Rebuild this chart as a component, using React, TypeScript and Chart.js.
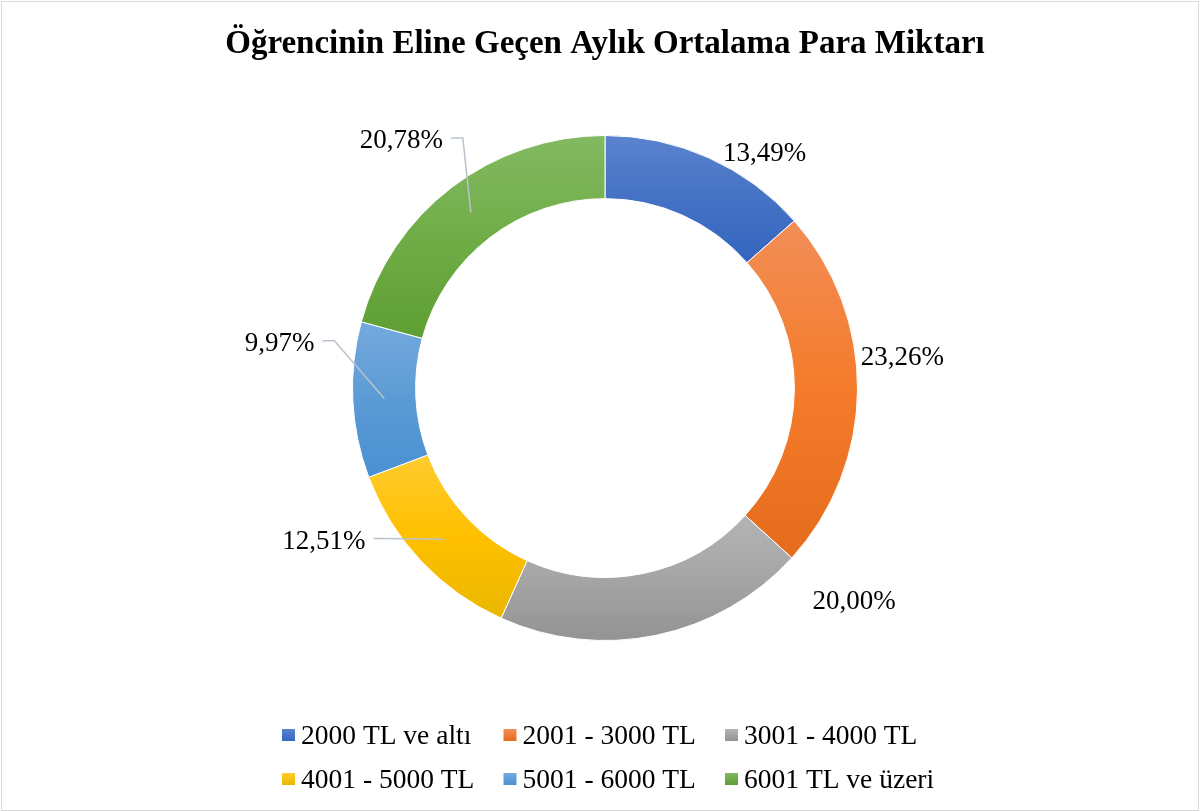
import React, { useEffect, useRef } from 'react';
import { Chart, registerables } from 'chart.js';

Chart.register(...registerables);

const TITLE = 'Öğrencinin Eline Geçen Aylık Ortalama Para Miktarı';
const categories = [
  '2000 TL ve altı',
  '2001 - 3000 TL',
  '3001 - 4000 TL',
  '4001 - 5000 TL',
  '5001 - 6000 TL',
  '6001 TL ve üzeri',
];
const percentages = [13.49, 23.26, 20.0, 12.51, 9.97, 20.78];

// gradient colours per slice (top -> base -> bottom)
const topColors = ['#5b83ce', '#f28e58', '#b4b4b4', '#ffcb30', '#75a9dd', '#83b962'];
const baseColors = ['#4472c4', '#f47b2a', '#a5a5a5', '#ffc000', '#5b9bd5', '#70ad47'];
const bottomColors = ['#3565c0', '#e46c1c', '#939393', '#e9b700', '#4a90d3', '#5e9e32'];

// label placement: direction (deg, 0 = right, clockwise) and distance as multiple of outer radius
const labelAngles = [-55.9, -6.2, 40.4, 151.7, 188.1, 230.7];
const labelDistances = [1.128, 1.185, 1.296, 1.265, 1.302, 1.274];
const labelLeaders = [false, false, false, true, true, true];

const LABEL_FONT_SIZE = 27;
const LEGEND_FONT_SIZE = 27.5;
const TITLE_FONT_SIZE = 33;
const SERIF = '"Liberation Serif", "Times New Roman", serif';

function formatPct(v: number): string {
  return v.toFixed(2).replace('.', ',') + '%';
}

function sliceGradient(context: any) {
  const chart = context.chart;
  const i = context.dataIndex;
  const area = chart.chartArea;
  if (!area || i === undefined) return baseColors[i ?? 0];
  const cx = (area.left + area.right) / 2;
  const cy = (area.top + area.bottom) / 2;
  const R = Math.min(area.width, area.height) / 2;
  const r = R * 0.75;
  const total = percentages.reduce((a, b) => a + b, 0);
  let cum = 0;
  for (let k = 0; k < i; k++) cum += percentages[k];
  const a0 = -Math.PI / 2 + (cum / total) * Math.PI * 2;
  const a1 = a0 + (percentages[i] / total) * Math.PI * 2;
  const ys = [
    cy + Math.sin(a0) * R,
    cy + Math.sin(a1) * R,
    cy + Math.sin(a0) * r,
    cy + Math.sin(a1) * r,
  ];
  let yMin = Math.min(...ys);
  let yMax = Math.max(...ys);
  const contains = (ang: number) => {
    for (let t = ang - 4 * Math.PI; t <= ang + 4 * Math.PI; t += 2 * Math.PI) {
      if (t >= a0 && t <= a1) return true;
    }
    return false;
  };
  if (contains(-Math.PI / 2)) yMin = cy - R;
  if (contains(Math.PI / 2)) yMax = cy + R;
  const g = chart.ctx.createLinearGradient(0, yMin, 0, yMax);
  g.addColorStop(0, topColors[i]);
  g.addColorStop(0.5, baseColors[i]);
  g.addColorStop(1, bottomColors[i]);
  return g;
}

const labelsPlugin = {
  id: 'sliceLabels',
  afterDatasetsDraw(chart: any) {
    const ctx = chart.ctx;
    const meta = chart.getDatasetMeta(0);
    ctx.save();
    ctx.font = `${LABEL_FONT_SIZE}px ${SERIF}`;
    ctx.fillStyle = '#000000';
    ctx.textAlign = 'center';
    ctx.textBaseline = 'alphabetic';
    meta.data.forEach((arc: any, i: number) => {
      const p = arc.getProps(['x', 'y', 'startAngle', 'endAngle', 'outerRadius', 'innerRadius'], true);
      const a = (labelAngles[i] * Math.PI) / 180;
      const tx = p.x + Math.cos(a) * p.outerRadius * labelDistances[i];
      const ty = p.y + Math.sin(a) * p.outerRadius * labelDistances[i];
      const text = formatPct(percentages[i]);
      ctx.fillText(text, tx, ty + LABEL_FONT_SIZE * 0.34);
      if (labelLeaders[i]) {
        const w = ctx.measureText(text).width;
        const sx = tx + w / 2 + 8;
        const sy = ty - 1;
        const mid = (p.startAngle + p.endAngle) / 2;
        const mr = (p.outerRadius + p.innerRadius) / 2;
        const ex = p.x + Math.cos(mid) * mr;
        const ey = p.y + Math.sin(mid) * mr;
        ctx.beginPath();
        ctx.strokeStyle = '#b9c3ce';
        ctx.lineWidth = 1.5;
        ctx.moveTo(sx, sy);
        ctx.lineTo(sx + 12, sy);
        ctx.lineTo(ex, ey);
        ctx.stroke();
      }
    });
    ctx.restore();
  },
};

const legendPlugin = {
  id: 'gridLegend',
  afterDraw(chart: any) {
    const ctx = chart.ctx;
    const area = chart.chartArea;
    const cx = (area.left + area.right) / 2;
    const left = cx - 323;
    const colPitch = 221.5;
    const rowBaselines = [chart.height - 68, chart.height - 24];
    ctx.save();
    ctx.font = `${LEGEND_FONT_SIZE}px ${SERIF}`;
    ctx.textAlign = 'left';
    ctx.textBaseline = 'alphabetic';
    categories.forEach((label, i) => {
      const col = i % 3;
      const row = Math.floor(i / 3);
      const bx = left + col * colPitch;
      const base = rowBaselines[row];
      const boxTop = base - 15;
      const g = ctx.createLinearGradient(0, boxTop, 0, boxTop + 12);
      g.addColorStop(0, topColors[i]);
      g.addColorStop(1, bottomColors[i]);
      ctx.fillStyle = g;
      ctx.fillRect(bx, boxTop, 13, 12);
      ctx.fillStyle = '#000000';
      ctx.fillText(label, bx + 19, base);
    });
    // chart frame
    ctx.strokeStyle = '#d9d9d9';
    ctx.lineWidth = 1;
    ctx.strokeRect(1.5, 1.5, chart.width - 3, chart.height - 3);
    ctx.restore();
  },
};

export default function App() {
  const canvasRef = useRef<HTMLCanvasElement | null>(null);

  useEffect(() => {
    document.body.style.margin = '0';
    document.body.style.background = '#ffffff';
    const canvas = canvasRef.current;
    if (!canvas) return;
    const chart = new Chart(canvas, {
      type: 'doughnut',
      data: {
        labels: categories,
        datasets: [
          {
            data: percentages,
            backgroundColor: sliceGradient as any,
            borderColor: '#ffffff',
            borderWidth: 1,
          },
        ],
      },
      options: {
        responsive: true,
        maintainAspectRatio: false,
        animation: false,
        cutout: '75%',
        layout: { padding: { left: 10, right: 0, top: 0, bottom: 171 } },
        plugins: {
          legend: { display: false },
          tooltip: { enabled: false },
          title: {
            display: true,
            text: TITLE,
            color: '#000000',
            font: { family: SERIF, size: TITLE_FONT_SIZE, weight: 'bold' },
            padding: { top: 25, bottom: 70.4 },
          },
        },
      },
      plugins: [labelsPlugin, legendPlugin],
    });
    return () => chart.destroy();
  }, []);

  return (
    <div style={{ width: 1200, height: 812, position: 'relative', background: '#ffffff' }}>
      <canvas ref={canvasRef} />
    </div>
  );
}
